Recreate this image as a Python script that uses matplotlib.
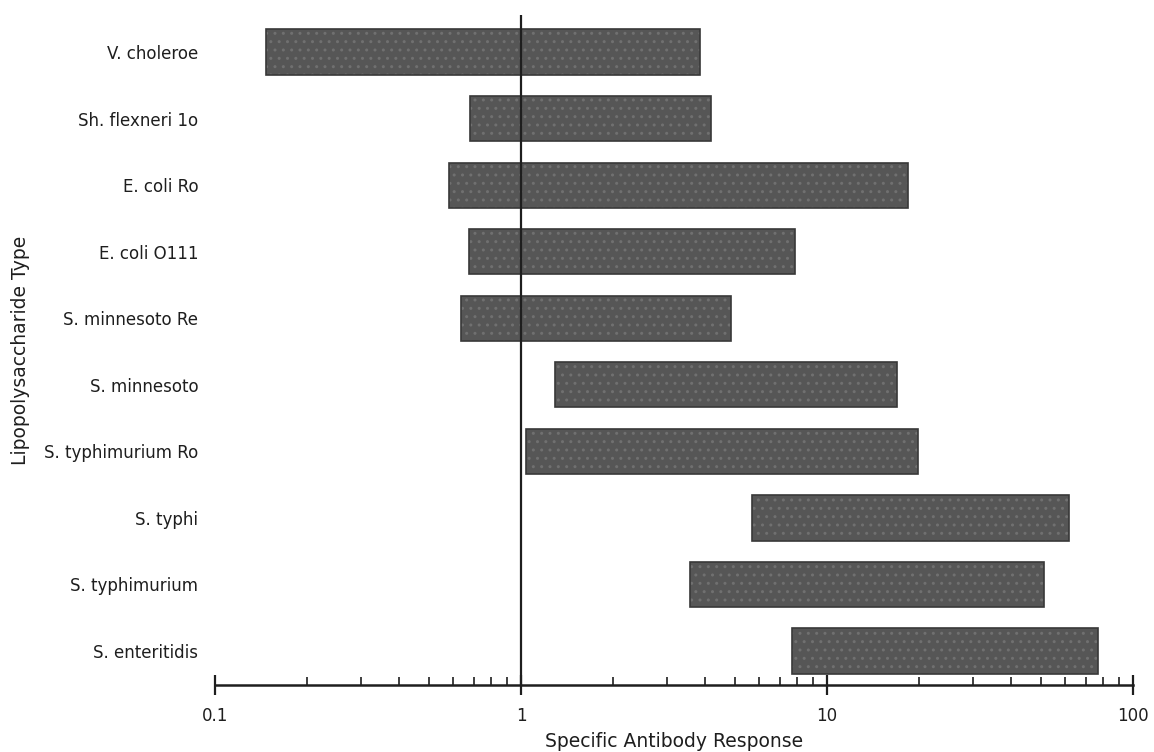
import matplotlib
matplotlib.use("Agg")
import matplotlib.pyplot as plt
from matplotlib.ticker import FixedLocator, LogLocator, NullFormatter

plt.rcParams['font.family'] = ['DejaVu Sans']

# Lipopolysaccharide types, listed top to bottom
lps_types = [
    "V. choleroe",
    "Sh. flexneri 1o",
    "E. coli Ro",
    "E. coli O111",
    "S. minnesoto Re",
    "S. minnesoto",
    "S. typhimurium Ro",
    "S. typhi",
    "S. typhimurium",
    "S. enteritidis",
]

# Range of the specific antibody response for each type (low, high)
response_low = [0.147, 0.679, 0.581, 0.678, 0.639, 1.29, 1.04, 5.69, 3.57, 7.71]
response_high = [3.85, 4.18, 18.4, 7.88, 4.84, 16.9, 19.8, 61.8, 51.3, 77.1]

major_ticks = [0.1, 1, 10, 100]
major_labels = ["0.1", "1", "10", "100"]

fig = plt.figure(figsize=(11.54, 7.52), dpi=100)
ax = fig.add_axes([0.1863, 0.0891, 0.7955, 0.8909])

ink = "#1e1e1e"
positions = list(range(len(lps_types)))
widths = [h - l for l, h in zip(response_low, response_high)]

# Textured gray bars: hatched fill plus a dark outline
ax.barh(positions, widths, left=response_low, height=0.68,
        color="#565656", edgecolor="#707070", hatch="..", linewidth=0, zorder=2)
ax.barh(positions, widths, left=response_low, height=0.68,
        fill=False, edgecolor="#383838", linewidth=1.2, zorder=3)

ax.set_xscale("log")
ax.set_xlim(0.1, 100)
ax.set_ylim(9.51, -0.556)

# Reference line at a response of 1
ax.axvline(1, color=ink, linewidth=1.6, zorder=4)

for side in ("top", "right", "left"):
    ax.spines[side].set_visible(False)
ax.spines["bottom"].set_color(ink)
ax.spines["bottom"].set_linewidth(1.8)

ax.xaxis.set_major_locator(FixedLocator(major_ticks))
ax.set_xticklabels(major_labels)
ax.xaxis.set_minor_locator(LogLocator(base=10, subs=range(2, 10)))
ax.xaxis.set_minor_formatter(NullFormatter())
ax.tick_params(axis="x", which="major", direction="inout", length=14, width=1.6,
               color=ink, labelsize=12, labelcolor=ink, pad=9)
ax.tick_params(axis="x", which="minor", direction="in", length=6, width=1.2, color=ink)

ax.set_yticks(positions)
ax.set_yticklabels(lps_types)
ax.tick_params(axis="y", length=0, pad=12, labelsize=12, labelcolor=ink)

ax.set_xlabel("Specific Antibody Response", fontsize=13.5, color=ink, labelpad=5)
ax.set_ylabel("Lipopolysaccharide Type", fontsize=13.5, color=ink, labelpad=10)

fig.savefig("out.png", dpi=100, facecolor="white")
